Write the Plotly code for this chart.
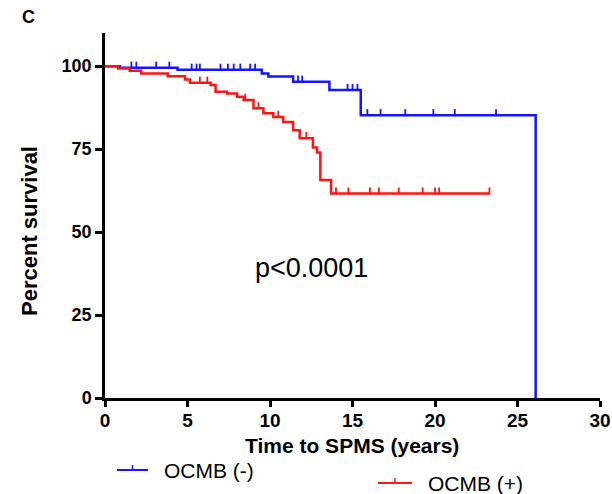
import plotly.graph_objects as go
import numpy as np

# ---- data ----
neg_times = [0, 0.9, 4.4, 9.5, 9.9, 11.4, 13.6, 15.5, 26.1]
neg_surv = [100, 99.5, 98.9, 97.8, 96.9, 95.3, 92.8, 85.2, 0]
neg_censor = [1.6, 1.9, 3.1, 3.9, 5.25, 5.55, 5.75, 7.0, 7.45, 7.8, 8.2, 8.8, 9.1,
              11.7, 11.95, 14.7, 15.0, 15.3, 15.9, 16.7, 18.2, 19.9, 21.2, 23.7]

pos_times = [0, 0.8, 1.5, 2.2, 3.8, 4.85, 5.15, 6.4, 6.7, 7.4, 8.0, 8.4, 9.0, 9.6,
             10.2, 10.8, 11.4, 11.8, 12.6, 12.85, 13.05, 13.7, 23.3]
pos_surv = [100, 99.3, 98.6, 97.8, 97.0, 96.0, 95.0, 94.3, 92.3, 91.8, 90.8, 89.8,
            87.3, 85.8, 84.7, 83.2, 80.7, 78.3, 75.5, 74.0, 65.7, 61.6, 61.6]
pos_censor = [5.75, 6.2, 8.5, 9.3, 10.5, 12.2, 14.0, 14.75, 16.05, 16.6, 17.8,
              19.25, 20.0, 20.25, 23.3]

series_names = ["OCMB (-)", "OCMB (+)"]
x_ticks = [0, 5, 10, 15, 20, 25, 30]
y_ticks = [0, 25, 50, 75, 100]

BLUE = "#1414ff"
RED = "#ff1414"
FONT = "Liberation Sans, Arial, sans-serif"

# plot-area pixel frame
L, R, T, B = 105, 600, 33, 398
def px(xp):
    return (xp - L) / (R - L)
def py(yp):
    return (B - yp) / (B - T)


def surv_at(times, surv, t):
    idx = np.searchsorted(np.array(times), t, side="right") - 1
    return surv[max(idx, 0)]


fig = go.Figure()

for times, surv, cens, col in [
    (neg_times, neg_surv, neg_censor, BLUE),
    (pos_times, pos_surv, pos_censor, RED),
]:
    fig.add_trace(go.Scatter(x=times, y=surv, mode="lines", line=dict(color=col, width=2.5, shape="hv"),
                             showlegend=False, hoverinfo="skip", cliponaxis=False))
    cy = [surv_at(times, surv, t) + 0.8 for t in cens]
    fig.add_trace(go.Scatter(x=cens, y=cy, mode="markers",
                             marker=dict(symbol="line-ns-open", size=5, color=col,
                                         line=dict(color=col, width=1.8)),
                             showlegend=False, hoverinfo="skip"))

fig.add_annotation(x=12.5, y=39.2, xref="x", yref="y", text="p<0.0001", showarrow=False,
                   xanchor="center", yanchor="middle",
                   font=dict(family=FONT, size=27, color="black"))

fig.update_layout(width=612, height=494, margin=dict(l=L, r=612 - R, t=T, b=494 - B, autoexpand=False),
                  paper_bgcolor="white", plot_bgcolor="white",
                  font=dict(family=FONT, color="black"), showlegend=False)

fig.add_annotation(x=px(28), y=py(17), xref="paper", yref="paper", text="<b>C</b>", showarrow=False,
                   xanchor="center", yanchor="middle",
                   font=dict(family=FONT, size=18, color="black"))
fig.add_annotation(x=px(29), y=py(231), xref="paper", yref="paper", text="<b>Percent survival</b>",
                   textangle=-90, showarrow=False, xanchor="center", yanchor="middle",
                   font=dict(family=FONT, size=22, color="black"))
fig.add_annotation(x=px(352), y=py(446), xref="paper", yref="paper", text="<b>Time to SPMS (years)</b>",
                   showarrow=False, xanchor="center", yanchor="middle",
                   font=dict(family=FONT, size=21, color="black"))

# manual legend (two staggered entries)
for name, col, x0, x1, xt, yc in [
    (series_names[0], BLUE, 117, 148, 162, 470),
    (series_names[1], RED, 378, 412, 426, 483),
]:
    fig.add_shape(type="line", xref="paper", yref="paper", x0=px(x0), x1=px(x1), y0=py(yc), y1=py(yc),
                  line=dict(color=col, width=2))
    xm = (x0 + x1) / 2
    fig.add_shape(type="line", xref="paper", yref="paper", x0=px(xm), x1=px(xm), y0=py(yc), y1=py(yc - 5),
                  line=dict(color=col, width=1.5))
    fig.add_annotation(x=px(xt), y=py(yc), xref="paper", yref="paper", text=name, showarrow=False,
                       xanchor="left", yanchor="middle", font=dict(family=FONT, size=21, color="black"))

fig.update_xaxes(range=[0, 30], tickvals=x_ticks, ticktext=[f"<b>{v}</b>" for v in x_ticks],
                 showline=True, linecolor="black", linewidth=2.5, ticks="outside", ticklen=6,
                 tickwidth=2.5, tickcolor="black", showgrid=False, zeroline=False, automargin=False,
                 ticklabelstandoff=-3,
                 tickfont=dict(family=FONT, size=19, color="black"))
fig.update_yaxes(range=[0, 110], tickvals=y_ticks, ticktext=[f"<b>{v}</b>" for v in y_ticks],
                 showline=True, linecolor="black", linewidth=2.5, ticks="outside", ticklen=7,
                 tickwidth=2.5, tickcolor="black", showgrid=False, zeroline=False, automargin=False,
                 tickfont=dict(family=FONT, size=18, color="black"))

fig.write_html("out.html")
